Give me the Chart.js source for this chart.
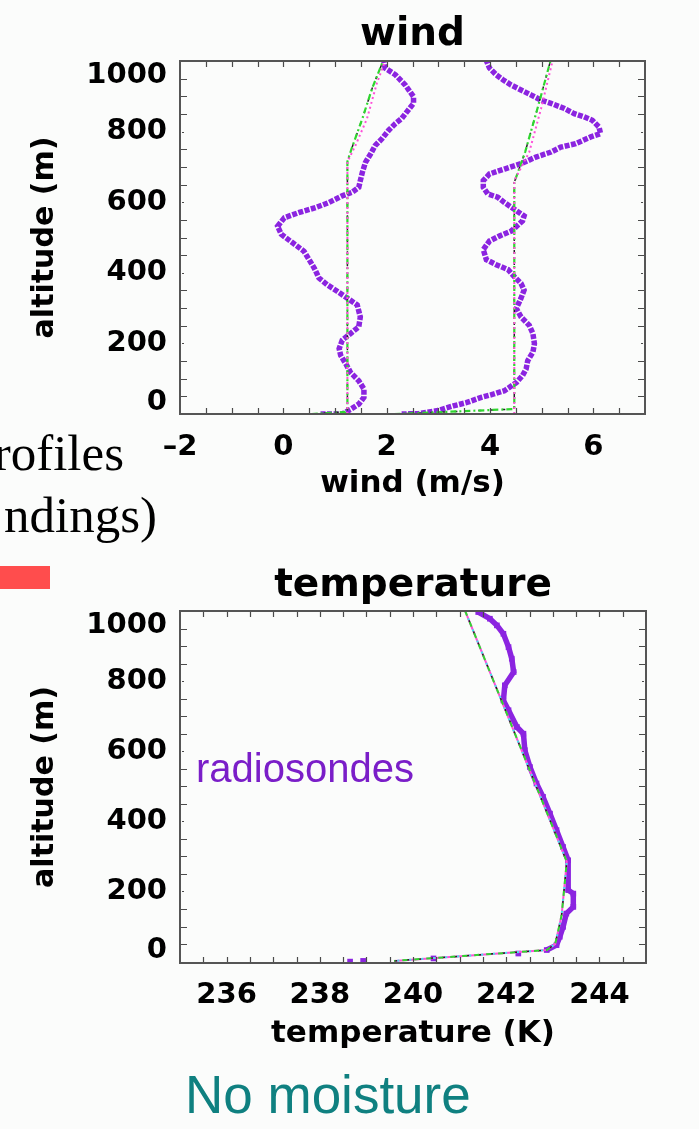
<!DOCTYPE html>
<html>
<head>
<meta charset="utf-8">
<title>Wind and temperature profiles</title>
<script src="https://cdn.jsdelivr.net/npm/chart.js@4.4.1/dist/chart.umd.min.js"></script>
<style>
  html, body { margin: 0; padding: 0; background: #fbfcfb; }
  body { width: 699px; height: 1129px; position: relative; overflow: hidden; }
  canvas { position: absolute; left: 0; }
</style>
</head>
<body>
<canvas id="slide" width="699" height="1129" style="top:0"></canvas>
<canvas id="windChart" width="699" height="540" style="top:0"></canvas>
<canvas id="tempChart" width="699" height="589" style="top:540px"></canvas>
<script>
// ---------- wind profiles (altitude in m, wind in m/s) ----------
const windLeftSondeAlt = [0, 0, 13, 28, 47, 71, 94, 118, 142, 166, 185, 209, 228, 247, 275, 309, 328, 347, 366, 385, 413, 437, 461, 485, 509, 532, 556, 571, 585, 599, 618, 628, 642, 661, 685, 713, 737, 761, 780, 804, 823, 837, 856, 880, 899, 932, 961, 980, 1004];
const windLeftSondeSpeed = [0.72, 1.14, 1.30, 1.46, 1.56, 1.56, 1.46, 1.30, 1.21, 1.11, 1.08, 1.14, 1.30, 1.46, 1.49, 1.43, 1.24, 1.05, 0.85, 0.69, 0.60, 0.50, 0.40, 0.18, -0.04, -0.11, 0.02, 0.31, 0.63, 0.88, 1.14, 1.33, 1.46, 1.49, 1.53, 1.59, 1.69, 1.78, 1.91, 2.04, 2.17, 2.29, 2.39, 2.52, 2.52, 2.36, 2.17, 1.97, 1.94];

const windRightSondeAlt = [0, 1, 9, 23, 32, 47, 56, 66, 89, 109, 128, 151, 175, 199, 228, 251, 275, 299, 328, 351, 370, 389, 409, 423, 437, 466, 490, 504, 518, 547, 561, 580, 599, 614, 623, 642, 661, 680, 694, 709, 728, 742, 756, 766, 785, 794, 813, 832, 842, 851, 866, 880, 889, 904, 918, 932, 947, 961, 980, 1001];
const windRightSondeSpeed = [2.29, 2.62, 2.97, 3.29, 3.54, 3.83, 4.06, 4.28, 4.51, 4.63, 4.70, 4.73, 4.83, 4.86, 4.83, 4.76, 4.60, 4.51, 4.60, 4.66, 4.60, 4.47, 4.35, 4.12, 3.93, 3.87, 3.99, 4.18, 4.41, 4.63, 4.66, 4.47, 4.28, 4.15, 3.96, 3.87, 3.87, 3.99, 4.28, 4.60, 4.89, 5.18, 5.37, 5.66, 5.95, 6.14, 6.11, 5.98, 5.82, 5.63, 5.43, 5.18, 4.99, 4.79, 4.60, 4.41, 4.25, 4.12, 3.99, 3.93];

const windLeftModelAlt = [0, 6, 12, 715, 751, 837, 923, 1000];
const windLeftModelA = [0.55, 1.20, 1.24, 1.24, 1.32, 1.53, 1.72, 1.93];
const windLeftModelBAlt = [0, 715, 723, 762, 837, 937, 1000];
const windLeftModelB = [1.24, 1.24, 1.27, 1.40, 1.62, 1.81, 1.97];

const windRightModelAlt = [0, 14, 656, 742, 866, 1000];
const windRightModelA = [2.15, 4.47, 4.47, 4.68, 4.92, 5.17];
const windRightModelBAlt = [0, 656, 670, 742, 866, 1000];
const windRightModelB = [4.47, 4.47, 4.50, 4.76, 4.99, 5.21];

const windTickValues = [-2, 0, 2, 4, 6];
const windTickLabels = ['\u20132', '0', '2', '4', '6'];

// ---------- temperature profiles (altitude in m, temperature in K) ----------
const tempSondeAlt = [0, 2, 9, 23, 33, 47, 71, 99, 137, 156, 194, 204, 289, 327, 375, 422, 470, 508, 555, 603, 650, 669, 717, 745, 788, 826, 864, 897, 935, 959, 978, 997];
const tempSondeK = [238.65, 238.93, 240.44, 242.26, 242.87, 243.08, 243.15, 243.22, 243.29, 243.44, 243.44, 243.33, 243.33, 243.22, 243.08, 242.94, 242.79, 242.65, 242.51, 242.40, 242.37, 242.23, 242.05, 241.94, 241.97, 242.16, 242.12, 242.05, 241.94, 241.80, 241.65, 241.40];

const tempModelAlt = [2, 33, 50, 90, 133, 229, 285, 1000];
const tempModelK = [239.60, 242.87, 243.05, 243.12, 243.19, 243.26, 243.30, 241.12];

const tempTickValues = [236, 238, 240, 242, 244];
const tempTickLabels = ['236', '238', '240', '242', '244'];

const altTickValues = [0, 200, 400, 600, 800, 1000];
const altTickLabels = ['0', '200', '400', '600', '800', '1000'];

// ---------- styling helpers ----------
const PURPLE = '#8b24e0';
const GREEN = '#2fd62f';
const MAGENTA = '#ff4fd8';
const CYAN = '#3fe8ee';

function pts(xs, ys) { return xs.map((v, i) => ({ x: v, y: ys[i] })); }
function boldFont(size, lineHeight) {
  return { family: '"DejaVu Sans", sans-serif', weight: 'bold', size, lineHeight };
}

// inward tick marks on all four sides plus the plot frame
const frameAndTicks = {
  id: 'frameAndTicks',
  afterDatasetsDraw(chart, args, opts) {
    const { ctx, chartArea: a, scales: { x, y } } = chart;
    ctx.save();
    ctx.strokeStyle = '#4a4a4a';
    ctx.lineWidth = 1.2;
    ctx.beginPath();
    for (let v = x.min + opts.xStep; v < x.max - 1e-9; v += opts.xStep) {
      const px = Math.round(x.getPixelForValue(v)) + 0.5;
      ctx.moveTo(px, a.bottom); ctx.lineTo(px, a.bottom - 6);
      ctx.moveTo(px, a.top); ctx.lineTo(px, a.top + 6);
    }
    const first = Math.ceil(y.min / opts.yStep) * opts.yStep;
    for (let v = first; v <= y.max + 1e-9; v += opts.yStep) {
      const py = Math.round(y.getPixelForValue(v)) + 0.5;
      const major = Math.abs(v % opts.yMajor) < 1e-9;
      const len = major ? 2 : 7;
      const inset = major ? 2 : 0;
      ctx.moveTo(a.left + inset, py); ctx.lineTo(a.left + inset + len, py);
      ctx.moveTo(a.right - inset, py); ctx.lineTo(a.right - inset - len, py);
    }
    ctx.stroke();
    ctx.lineWidth = 2;
    ctx.strokeStyle = '#555';
    ctx.strokeRect(a.left, a.top, a.right - a.left, a.bottom - a.top);
    ctx.restore();
  }
};

function altitudeAxis(min, max) {
  const last = altTickValues.length - 1;
  return {
    type: 'linear', position: 'left', min, max,
    grid: { display: false, drawTicks: false }, border: { display: false },
    afterBuildTicks: s => { s.ticks = altTickValues.map(v => ({ value: v })); },
    afterFit: s => { s.width = 180; },
    ticks: {
      padding: 13, color: '#000', autoSkip: false,
      callback: v => {
        const i = altTickValues.indexOf(v);
        const t = altTickLabels[i];
        if (i === 0) return [t, ''];
        if (i === last) return ['', t];
        return t;
      },
      font: c => boldFont(29, c.index === 0 ? '23px' : (c.index === last ? '28px' : 1.2))
    },
    title: { display: true, text: 'altitude (m)', color: '#000', font: boldFont(30, 1.2), padding: { top: 27.6, bottom: 0 } }
  };
}

function valueAxis(min, max, tickValues, tickLabels, titleText, height, tickPad, titlePad) {
  return {
    type: 'linear', position: 'bottom', min, max,
    grid: { display: false, drawTicks: false }, border: { display: false },
    afterBuildTicks: s => { s.ticks = tickValues.map(v => ({ value: v })); },
    afterFit: s => { s.height = height; },
    ticks: {
      padding: tickPad, color: '#000', autoSkip: false, maxRotation: 0, minRotation: 0,
      font: boldFont(29, 1.2),
      callback: v => tickLabels[tickValues.indexOf(v)]
    },
    title: { display: true, text: titleText, color: '#000', font: boldFont(31, 1.2), padding: { top: 0, bottom: titlePad } }
  };
}

function line(data, color, width, dash, order, extra) {
  return Object.assign({
    data, showLine: true, borderColor: color, backgroundColor: color,
    borderWidth: width, borderDash: dash, pointRadius: 0, tension: 0, order
  }, extra || {});
}

// ---------- wind chart ----------
new Chart(document.getElementById('windChart'), {
  type: 'scatter',
  data: {
    datasets: [
      line(pts(windLeftSondeSpeed, windLeftSondeAlt), PURPLE, 5.5, [5, 1.5], 6),
      line(pts(windRightSondeSpeed, windRightSondeAlt), PURPLE, 5.5, [5, 1.5], 6),
      line(pts(windLeftModelA, windLeftModelAlt), '#222', 1.5, [3, 9], 3),
      line(pts(windRightModelA, windRightModelAlt), '#222', 1.5, [3, 9], 3),
      line(pts(windLeftModelA, windLeftModelAlt), GREEN, 2.2, [6, 3, 2, 3], 2),
      line(pts(windRightModelA, windRightModelAlt), GREEN, 2.2, [6, 3, 2, 3], 2),
      line(pts(windLeftModelB, windLeftModelBAlt), MAGENTA, 2, [2, 3], 1),
      line(pts(windRightModelB, windRightModelBAlt), MAGENTA, 2, [2, 3], 1)
    ]
  },
  options: {
    responsive: false, animation: false, devicePixelRatio: 1,
    layout: { padding: { left: 0, right: 54, top: 0, bottom: 0 } },
    plugins: {
      legend: { display: false }, tooltip: { enabled: false },
      title: { display: true, text: 'wind', color: '#000', font: boldFont(39, 1.2), padding: { top: 11.4, bottom: 2.8 }, fullSize: false },
      frameAndTicks: { xStep: 0.5, yStep: 50, yMajor: 200 }
    },
    scales: {
      x: valueAxis(-2, 7, windTickValues, windTickLabels, 'wind (m/s)', 126, 15.6, 37),
      y: altitudeAxis(0, 1000)
    }
  },
  plugins: [frameAndTicks]
});

// ---------- temperature chart ----------
const sondeSegment = {
  borderColor: c => {
    const dx = Math.abs(c.p1.x - c.p0.x), dy = Math.abs(c.p1.y - c.p0.y);
    return dx > 2 * dy ? 'rgba(0,0,0,0)' : PURPLE;
  }
};

new Chart(document.getElementById('tempChart'), {
  type: 'scatter',
  data: {
    datasets: [
      line(pts(tempSondeK, tempSondeAlt), PURPLE, 5.5, [], 6, { pointRadius: 4, pointStyle: 'rect', pointBorderWidth: 0, segment: sondeSegment }),
      line(pts(tempModelK, tempModelAlt), MAGENTA, 2, [], 4),
      line(pts(tempModelK, tempModelAlt), '#222', 1.5, [3, 9], 3),
      line(pts(tempModelK, tempModelAlt), GREEN, 2, [5, 7], 2, { borderDashOffset: 4 }),
      line(pts(tempModelK, tempModelAlt), CYAN, 2, [2, 10], 1, { borderDashOffset: 9 })
    ]
  },
  options: {
    responsive: false, animation: false, devicePixelRatio: 1,
    layout: { padding: { left: 0, right: 53, top: 0, bottom: 0 } },
    plugins: {
      legend: { display: false }, tooltip: { enabled: false },
      title: { display: true, text: 'temperature', color: '#000', font: boldFont(39, 1.2), padding: { top: 22.5, bottom: 1.7 }, fullSize: false },
      frameAndTicks: { xStep: 0.5, yStep: 50, yMajor: 200 }
    },
    scales: {
      x: valueAxis(235, 245, tempTickValues, tempTickLabels, 'temperature (K)', 166, 14.6, 76),
      y: altitudeAxis(-4, 1000)
    }
  },
  plugins: [frameAndTicks]
});

// ---------- slide text around the charts ----------
const slide = document.getElementById('slide').getContext('2d');
slide.fillStyle = '#000';
slide.font = '51px "Liberation Serif", serif';
slide.textAlign = 'right';
slide.textBaseline = 'alphabetic';
slide.fillText('rofiles', 124, 470);
slide.fillText('ndings)', 157, 532);
slide.fillStyle = '#ff4d4d';
slide.fillRect(0, 566, 50, 23);
slide.textAlign = 'left';
slide.fillStyle = '#7a1ec8';
slide.font = '40px "Liberation Sans", sans-serif';
slide.fillText('radiosondes', 196, 782);
slide.fillStyle = '#0f8080';
slide.font = '53px "Liberation Sans", sans-serif';
slide.fillText('No moisture', 185, 1113);
</script>
</body>
</html>
